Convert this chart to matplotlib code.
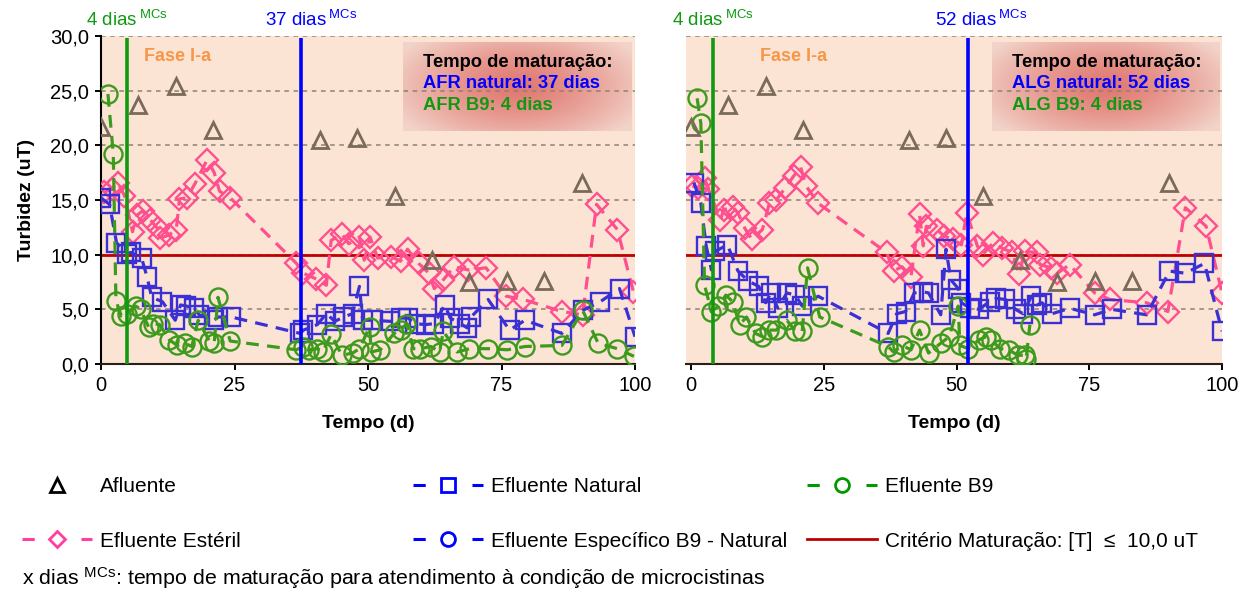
import numpy as np
import matplotlib.pyplot as plt
from matplotlib.lines import Line2D

plt.rcParams['font.family'] = 'Liberation Sans'
plt.rcParams['mathtext.default'] = 'regular'

# ---- data (tempo em dias, turbidez em uT) ----
afluente_dias = [0, 7, 14, 21, 41, 48, 55, 62, 69, 76, 83, 90]
afluente = [21.7, 23.7, 25.4, 21.4, 20.5, 20.7, 15.4, 9.5, 7.5, 7.6, 7.6, 16.6]

# AFR (left panel)
afr_esteril_dias = [0.6, 2.0, 3.1, 4.4, 5.9, 6.7, 7.8, 9.2, 10.6, 11.1, 12.7, 14.1, 14.7, 16.1, 17.6,
                    19.9, 21.2, 22.2, 24.2, 36.6, 37.9, 40.2, 42.2, 43.1, 45.1, 46.4, 48.4, 49.3, 50.4,
                    51.8, 54.4, 56.1, 57.4, 59.5, 61.4, 62.4, 64.1, 66.1, 68.8, 72.1, 75.9, 79.1, 86.3,
                    90.2, 92.8, 96.7, 99.7]
afr_esteril = [15.7, 16.0, 16.6, 15.4, 12.1, 13.6, 14.0, 13.2, 12.4, 11.5, 11.8, 12.3, 15.1, 15.2, 16.5,
               18.7, 17.5, 15.8, 15.2, 9.2, 8.3, 7.8, 7.2, 11.3, 11.9, 11.0, 11.6, 9.5, 11.6,
               9.7, 9.8, 9.4, 10.5, 9.2, 8.3, 6.9, 7.7, 8.9, 8.6, 8.8, 6.2, 5.9, 4.8,
               4.5, 14.6, 12.3, 6.6]
afr_natural_dias = [0.0, 1.6, 2.9, 4.8, 5.6, 7.6, 8.6, 9.5, 11.5, 13.9, 14.9, 16.0, 17.5, 18.4, 21.1,
                    22.0, 24.4, 37.3, 37.9, 40.5, 42.2, 43.8, 45.4, 47.1, 48.4, 49.0, 51.0, 54.2, 56.2,
                    57.5, 58.8, 60.8, 62.4, 64.4, 65.4, 67.3, 68.6, 69.3, 72.5, 76.5, 79.4, 86.3, 90.2,
                    93.5, 97.1, 100.0]
afr_natural = [15.2, 14.6, 11.1, 10.1, 10.2, 9.7, 8.0, 6.1, 5.7, 4.0, 5.4, 5.3, 5.1, 4.5, 4.0,
               4.3, 4.3, 2.8, 3.1, 3.6, 4.6, 3.9, 4.3, 4.6, 7.1, 4.0, 4.0, 3.9, 4.2,
               4.2, 3.7, 3.6, 3.7, 5.4, 4.2, 3.7, 3.3, 4.3, 5.9, 3.1, 4.0, 2.8, 4.9,
               5.7, 6.9, 2.5]
afr_b9_dias = [1.3, 2.3, 2.8, 3.8, 4.9, 6.5, 7.4, 8.9, 9.8, 11.0, 12.8, 14.3, 15.7, 17.0, 18.2,
               20.3, 21.2, 21.9, 24.2, 36.6, 37.9, 38.9, 40.5, 41.5, 43.1, 45.1, 47.1, 48.4, 50.3,
               50.6, 52.3, 54.9, 56.2, 57.2, 58.5, 59.8, 61.8, 63.4, 64.1, 66.7, 69.0, 72.5, 76.1,
               79.4, 86.3, 90.2, 93.1, 96.7, 99.8]
afr_b9 = [24.7, 19.2, 5.8, 4.4, 4.6, 5.3, 5.0, 3.4, 3.7, 3.6, 2.2, 1.7, 1.9, 1.6, 4.0,
          2.1, 1.9, 6.1, 2.1, 1.3, 1.6, 1.3, 1.4, 1.1, 2.7, 0.8, 1.0, 1.4, 3.4,
          1.1, 1.3, 2.8, 3.1, 3.7, 1.4, 1.4, 1.6, 1.1, 3.0, 1.1, 1.4, 1.4, 1.3,
          1.6, 1.7, 4.9, 1.9, 1.4, 0.7]

# ALG (right panel)
alg_esteril_dias = [0.2, 1.2, 2.5, 3.2, 5.5, 6.1, 7.8, 8.8, 10.1, 11.4, 13.4, 14.7, 16.0, 17.7, 19.3,
                    20.6, 21.6, 23.9, 36.8, 38.1, 39.7, 41.4, 43.0, 43.7, 44.3, 46.3, 47.6, 49.3, 50.9,
                    51.9, 53.9, 54.9, 56.9, 58.5, 60.5, 61.8, 62.8, 65.1, 65.7, 67.7, 69.0, 71.3, 76.0,
                    78.9, 85.8, 89.8, 93.1, 97.0, 100.0]
alg_esteril = [16.3, 16.1, 17.0, 16.0, 13.2, 14.1, 14.4, 13.8, 12.4, 11.4, 12.3, 14.7, 15.0, 16.1, 17.2,
               18.0, 16.3, 14.7, 10.2, 8.5, 8.9, 8.0, 13.7, 10.8, 12.6, 12.3, 11.7, 11.4, 10.9,
               13.8, 10.8, 10.0, 11.1, 10.6, 10.2, 8.2, 10.3, 10.2, 9.1, 8.8, 8.3, 9.1, 6.5,
               5.9, 5.6, 4.8, 14.3, 12.6, 6.5]
alg_natural_dias = [0.5, 1.8, 2.8, 3.8, 4.5, 6.8, 8.8, 10.7, 12.7, 14.0, 15.0, 16.3, 18.0, 19.6, 20.9,
                    23.9, 37.1, 38.7, 40.4, 42.0, 43.7, 44.7, 47.0, 48.0, 48.9, 50.3, 50.9, 52.6, 54.2,
                    56.2, 57.5, 59.2, 61.1, 62.5, 64.1, 65.1, 66.1, 68.0, 71.3, 76.0, 79.2, 85.8, 90.1,
                    93.1, 96.7, 100.0]
alg_natural = [16.6, 14.7, 10.8, 8.6, 10.3, 10.9, 8.5, 7.6, 7.1, 5.6, 6.5, 5.1, 6.5, 6.3, 5.3,
               6.2, 2.8, 4.6, 4.8, 6.5, 6.6, 6.5, 4.5, 10.5, 7.7, 6.9, 5.6, 5.1, 5.0,
               5.7, 6.0, 5.9, 5.0, 4.6, 6.2, 5.4, 5.6, 4.6, 5.1, 4.5, 5.0, 4.5, 8.5,
               8.3, 9.2, 3.0]
alg_b9_dias = [1.1, 1.8, 2.5, 3.8, 5.1, 6.5, 7.8, 9.1, 10.4, 12.1, 13.4, 14.7, 16.0, 18.0, 19.6,
               20.9, 21.9, 24.2, 37.1, 38.1, 39.7, 41.4, 43.0, 44.7, 47.0, 48.6, 50.3, 50.6, 52.2,
               54.2, 55.5, 56.5, 58.2, 59.8, 61.5, 62.8, 63.1, 63.8]
alg_b9 = [24.3, 22.0, 7.2, 4.8, 5.3, 6.3, 5.7, 3.6, 4.3, 2.8, 2.5, 3.1, 3.1, 4.0, 3.0,
          3.0, 8.8, 4.3, 1.6, 1.1, 1.7, 1.3, 3.1, 1.0, 1.9, 2.5, 5.3, 1.7, 1.4,
          2.2, 2.5, 2.2, 1.4, 1.3, 0.8, 0.8, 0.5, 3.6]

criterio = 10.0
mat_natural = [37, 52]      # dias, AFR / ALG
mat_b9 = [4, 4]
linha_natural = [37.4, 52.1]  # where the lines sit in the picture
linha_b9 = [4.9, 4.1]
siglas = ['AFR', 'ALG']

y_ticks = [0, 5, 10, 15, 20, 25, 30]
y_labels = ['0,0', '5,0', '10,0', '15,0', '20,0', '25,0', '30,0']
x_ticks = [0, 25, 50, 75, 100]

# ---- colours ----
c_afl = '#7a6a5a'
c_est = '#ff4f8f'
c_nat = '#3a30d4'
c_b9 = '#3d9a1c'
c_red = '#c00000'
c_vgreen = '#119911'
c_vblue = '#0000ff'

fig = plt.figure(figsize=(12.58, 5.92), dpi=100)
W, H = 1258, 592
ax1 = fig.add_axes([101 / W, 1 - 364 / H, 534 / W, 328 / H])
ax2 = fig.add_axes([686 / W, 1 - 364 / H, 536 / W, 328 / H])


def gradient_box(ax, x0, y0, x1, y1):
    yy, xx = np.mgrid[-1:1:80j, -1:1:200j]
    r = np.clip(np.sqrt(xx ** 2 + (yy * 0.8) ** 2) / 1.2, 0, 1) ** 1.3
    c0 = np.array([0.88, 0.47, 0.44])
    c1 = np.array([0.95, 0.83, 0.79])
    img = c0 * (1 - r[..., None]) + c1 * r[..., None]
    ax.imshow(img, extent=[x0, x1, y0, y1], transform=ax.transAxes,
              aspect='auto', zorder=0.2, interpolation='bilinear')


panels = [
    (ax1, afr_esteril_dias, afr_esteril, afr_natural_dias, afr_natural, afr_b9_dias, afr_b9, 0),
    (ax2, alg_esteril_dias, alg_esteril, alg_natural_dias, alg_natural, alg_b9_dias, alg_b9, 1),
]

for ax, ed, ev, nd, nv, bd, bv, i in panels:
    ax.set_facecolor('#fce4d4')
    gradient_box(ax, [0.566, 0.571][i], 0.710, [0.994, 0.996][i], 0.979)

    ax.plot(ed, ev, color=c_est, ls=(0, (4, 2.6)), lw=2.3, marker='D', ms=11,
            mfc='none', mew=1.7, zorder=3)
    ax.plot(nd, nv, color=c_nat, ls=(0, (4, 2.6)), lw=2.3, marker='s', ms=13,
            mfc='none', mew=1.7, zorder=3.2)
    ax.plot(bd, bv, color=c_b9, ls=(0, (4, 2.6)), lw=2.3, marker='o', ms=13,
            mfc='none', mew=1.7, zorder=3.4)
    ax.plot(afluente_dias, afluente, ls='none', marker='^', ms=12, mfc='none',
            mec=c_afl, mew=2, zorder=3.6)

    ax.axhline(criterio, color=c_red, lw=2, zorder=2.5)
    ax.vlines(linha_b9[i], 0, 29.8, color=c_vgreen, lw=2.6, zorder=4)
    ax.vlines(linha_natural[i], 0, 29.8, color=c_vblue, lw=2.6, zorder=4)

    ax.text([4.8, 4.0][i], 30.9, '%d dias$\\,^{MCs}$' % mat_b9[i], color=c_vgreen,
            fontsize=13.5, ha='center', va='baseline', clip_on=False)
    ax.text([39.3, 54.6][i], 30.9, '%d dias$\\,^{MCs}$' % mat_natural[i], color=c_vblue,
            fontsize=13.5, ha='center', va='baseline', clip_on=False)

    ax.text([0.143, 0.2][i], 0.937, 'Fase I-a', transform=ax.transAxes, color='#f79646',
            fontsize=13, fontweight='bold', ha='center', va='center')

    tx = [0.603, 0.608][i]
    ax.text(tx, 0.918, 'Tempo de maturação:', transform=ax.transAxes, color='black',
            fontsize=13.2, fontweight='bold', va='center', zorder=5)
    ax.text(tx, 0.854, '%s natural: %d dias' % (siglas[i], mat_natural[i]), transform=ax.transAxes,
            color=c_vblue, fontsize=13.2, fontweight='bold', va='center', zorder=5)
    ax.text(tx, 0.787, '%s B9: %d dias' % (siglas[i], mat_b9[i]), transform=ax.transAxes,
            color=c_vgreen, fontsize=13.2, fontweight='bold', va='center', zorder=5)

    ax.set_xlim([0, -1][i], 100)
    ax.set_ylim(0, 30)
    ax.set_xticks(x_ticks)
    ax.set_yticks(y_ticks)
    ax.set_yticklabels(y_labels)
    ax.yaxis.grid(True, ls=(0, (3, 3)), color='#8c8176', lw=1.1)
    ax.set_axisbelow(True)
    ax.tick_params(axis='both', labelsize=14.5, length=4.5, width=1.4, direction='out', pad=4)
    for s in ['top', 'right']:
        ax.spines[s].set_visible(False)
    ax.spines['bottom'].set_color('#2a2018')
    ax.spines['bottom'].set_linewidth(1.5)
    ax.spines['left'].set_linewidth(1.5)
    ax.set_xlabel('Tempo (d)', fontsize=14, fontweight='bold')
    ax.xaxis.set_label_coords(0.5, -0.155)

ax1.set_ylabel('Turbidez (uT)', fontsize=14, fontweight='bold')
ax1.yaxis.set_label_coords(-0.124, 0.5)
ax2.spines['left'].set_visible(False)
ax2.tick_params(axis='y', left=False, labelleft=False)

# ---- legend below the panels ----
dash = (0, (4, 15.3))
h_afl = Line2D([], [], ls='none', marker='^', ms=10, mfc='none', mec='black', mew=2)
h_est = Line2D([], [], color='#ff3f9f', ls=dash, lw=2.2, marker='D', ms=8, mfc='none', mew=2)
h_nat = Line2D([], [], color='#0000ff', ls=dash, lw=2.2, marker='s', ms=10, mfc='none', mew=2)
h_esp = Line2D([], [], color='#0000ff', ls=dash, lw=2.2, marker='o', ms=10, mfc='none', mew=2)
h_b9 = Line2D([], [], color='#009900', ls=dash, lw=2.2, marker='o', ms=10, mfc='none', mew=2)
h_crit = Line2D([], [], color=c_red, lw=2)

ycen = 1 - 514 / H
leg_cols = [
    ([h_afl, h_est], ['Afluente', 'Efluente Estéril'], 22),
    ([h_nat, h_esp], ['Efluente Natural', 'Efluente Específico B9 - Natural'], 413),
    ([h_b9, h_crit], ['Efluente B9', 'Critério Maturação: [T]  ≤  10,0 uT'], 807),
]
for hs, labs, x0 in leg_cols:
    fig.legend(hs, labs, loc='center left', bbox_to_anchor=(x0 / W, ycen), frameon=False,
               fontsize=15, handlelength=3.36, handletextpad=0.38, labelspacing=1.7,
               borderpad=0, borderaxespad=0, numpoints=1)

fig.text(22 / W, 1 - 578 / H,
         'x dias $^{MCs}$: tempo de maturação para atendimento à condição de microcistinas',
         fontsize=15.4, va='center', ha='left')

fig.savefig('out.png', dpi=100)
